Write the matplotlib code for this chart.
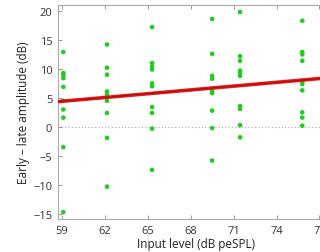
import numpy as np
from matplotlib import pyplot as plt

# input levels (dB peSPL) and early - late amplitude (dB) per level
levels = [59.1, 62.15, 65.3, 69.5, 71.45, 75.8]
amps = [
    [12.9, 9.3, 8.9, 8.4, 6.9, 4.5, 3.0, 1.6, -3.5, -14.7],
    [14.2, 10.2, 9.0, 6.1, 5.6, 5.1, 4.5, 2.4, -1.9, -10.3],
    [17.2, 11.0, 10.4, 9.9, 7.5, 7.0, 3.4, 2.4, -0.3, -7.4],
    [18.6, 12.6, 8.8, 8.3, 6.2, 5.8, 2.8, -0.2, -5.8],
    [19.8, 12.2, 11.4, 9.7, 9.2, 8.8, 3.6, 3.1, 0.3, -1.8],
    [18.3, 12.9, 12.5, 11.4, 7.8, 7.4, 6.3, 2.5, 1.6, 0.2],
]
fit_x = [58.72, 78]
fit_y = [4.35, 8.55]

xticks = [59, 62, 65, 68, 71, 74, 77]
yticks = [-15, -10, -5, 0, 5, 10, 15, 20]

plt.rcParams['font.family'] = ['Open Sans', 'DejaVu Sans']
fig = plt.figure(figsize=(3.2, 2.53), dpi=100)
ax = fig.add_axes([0.181, 0.130, 0.862, 0.846])

ax.axhline(0, color='#aaaaaa', lw=0.8, ls=(0, (1, 2)), zorder=1)
for x, ys in zip(levels, amps):
    ax.scatter([x] * len(ys), ys, s=11, color='#1fcc1f', edgecolors='none', zorder=3)
ax.plot(fit_x, fit_y, color='#e61a1a', lw=2.6, zorder=4, solid_capstyle='butt')
ax.plot(fit_x, fit_y, color='#b30d0d', lw=0.9, zorder=5, solid_capstyle='butt')

ax.set_xlim(58.72, 78)
ax.set_ylim(-15.9, 21.0)
ax.set_xticks(xticks)
ax.set_yticks(yticks)
ax.set_yticklabels([str(t).replace('-', '\u2212') for t in yticks])
ax.tick_params(direction='in', length=3, width=0.6, color='#888888',
               labelsize=8, labelcolor='#333333', top=True, right=True, pad=4)
for s in ax.spines.values():
    s.set_color('#aaaaaa')
    s.set_linewidth(0.8)
ax.set_xlabel('Input level (dB peSPL)', fontsize=8.5, color='#222222', labelpad=1)
ax.set_ylabel('Early \u2013 late amplitude (dB)', fontsize=8.5, color='#222222', labelpad=2)

fig.savefig('out.png', dpi=100)
